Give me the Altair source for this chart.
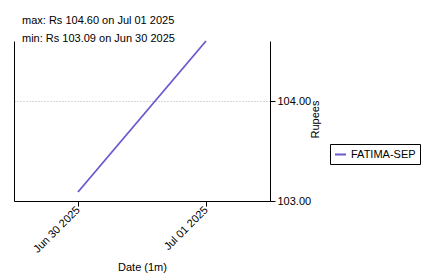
import altair as alt
import pandas as pd

dates = ["2025-06-30", "2025-07-01"]
prices = [103.09, 104.60]
series = ["FATIMA-SEP", "FATIMA-SEP"]
y_ticks = [103.0, 104.0]

df = pd.DataFrame({"date": dates, "price": prices, "series": series})

FONT = "Liberation Sans"

x_scale = alt.Scale(
    type="utc",
    domain=[alt.DateTime(year=2025, month=6, date=29, hours=12, utc=True),
            alt.DateTime(year=2025, month=7, date=1, hours=12, utc=True)],
)
x_axis = alt.Axis(
    values=[alt.DateTime(year=2025, month=6, date=30, utc=True),
            alt.DateTime(year=2025, month=7, date=1, utc=True)],
    labelExpr="utcFormat(datum.value, '%b %d %Y')", labelAngle=-45,
    labelAlign="right", labelBaseline="middle", grid=False,
    domainColor="black", tickColor="black", tickSize=5,
    labelColor="black", titleColor="black", titlePadding=7,
)
x_enc = alt.X("date:T", title="Date (1m)", scale=x_scale, axis=x_axis)

y_scale = alt.Scale(domain=[103.0, 104.6], nice=False, zero=False)

line = alt.Chart(df).mark_line(strokeWidth=1.8, color="#6a5acd").encode(
    x=x_enc,
    y=alt.Y("price:Q", title="Rupees", scale=y_scale,
            axis=alt.Axis(orient="right", values=y_ticks, format=".2f",
                          grid=True, gridColor="#999999", gridDash=[1, 2],
                          gridWidth=0.8, domainColor="black", tickColor="black",
                          tickSize=5, labelColor="black", titleColor="black",
                          titleAngle=270, titleX=45, titleY=78,
                          titleAlign="center", titleBaseline="middle")),
    color=alt.Color("series:N", scale=alt.Scale(range=["#6a5acd"]),
                    legend=alt.Legend(title=None, orient="none", legendX=316,
                                      legendY=103, symbolType="stroke",
                                      symbolStrokeWidth=2, strokeColor="black",
                                      padding=4, labelFontSize=11,
                                      labelColor="black", symbolSize=120)),
)

left_axis = alt.Chart(df).mark_line(opacity=0).encode(
    x=x_enc,
    y=alt.Y("price:Q", scale=y_scale,
            axis=alt.Axis(orient="left", labels=False, ticks=False, grid=False,
                          title=None, domainColor="black")),
)

chart = alt.layer(line, left_axis).resolve_axis(y="independent").properties(
    width=256,
    height=160,
    title=alt.TitleParams(
        text="max: Rs 104.60 on Jul 01 2025",
        subtitle="min: Rs 103.09 on Jun 30 2025",
        anchor="start", dx=8, fontSize=11, subtitleFontSize=11,
        fontWeight="normal", color="black", subtitleColor="black",
        font=FONT, subtitleFont=FONT, offset=-7, subtitlePadding=7,
    ),
    autosize=alt.AutoSizeParams(type="none"),
    padding={"left": 14, "top": 41, "right": 155, "bottom": 73},
).configure(font=FONT).configure_axis(
    labelFont=FONT, titleFont=FONT, labelFontSize=11, titleFontSize=11,
    titleFontWeight="normal",
).configure_legend(labelFont=FONT).configure_view(stroke=None)

chart.save("out.html", embed_options={"renderer": "svg", "actions": False})
